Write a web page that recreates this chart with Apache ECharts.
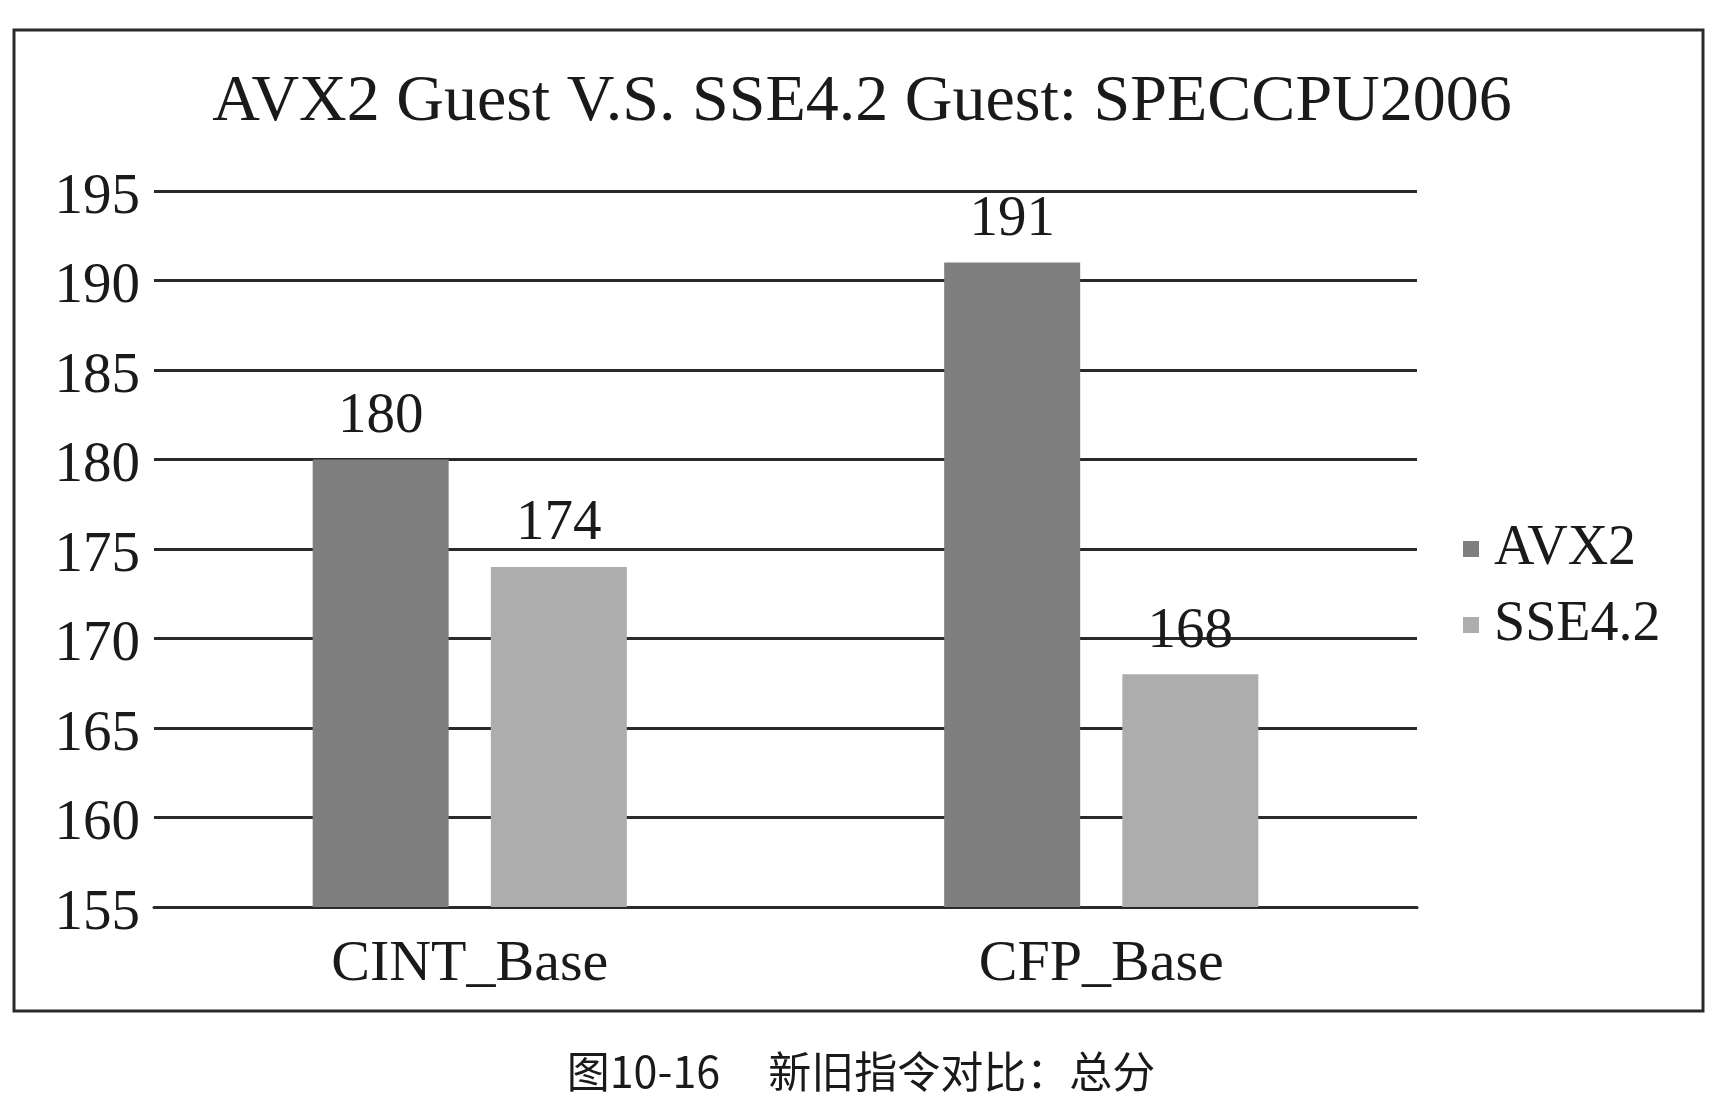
<!DOCTYPE html>
<html>
<head>
<meta charset="utf-8">
<script src="https://cdn.jsdelivr.net/npm/echarts@6/dist/echarts.min.js"></script>
<style>
html,body{margin:0;padding:0;background:#fff;}
#chart{width:1722px;height:1118px;}
</style>
</head>
<body>
<div id="chart"></div>
<script>
const categories=["CINT_Base","CFP_Base"];
const avx2=[180,191];
const sse42=[174,168];
const seriesNames=["AVX2","SSE4.2"];
const yMin=155, yMax=195, yStep=5;

const serif="'Liberation Serif','Times New Roman',serif";
const chart=echarts.init(document.getElementById("chart"));

const barLabel={show:true,position:"top",distance:14,color:"#1a1a1a",fontFamily:serif,fontSize:57};

chart.setOption({
  backgroundColor:"#fff",
  animation:false,
  title:[
    {text:"AVX2 Guest V.S. SSE4.2 Guest: SPECCPU2006",left:862,textAlign:"center",top:70,padding:0,
     textStyle:{fontFamily:serif,fontSize:66,fontWeight:"normal",color:"#1a1a1a"}},
    {text:"图10-16     新旧指令对比：总分",left:861,textAlign:"center",top:1050,padding:0,
     textStyle:{fontFamily:"'Noto Sans CJK SC',sans-serif",fontSize:43,fontWeight:"normal",color:"#1a1a1a"}}
  ],
  graphic:[{type:"rect",shape:{x:14,y:30,width:1689,height:981},
    style:{fill:"none",stroke:"#2a2a2a",lineWidth:3},silent:true}],
  legend:{orient:"vertical",left:1458,top:513,icon:"rect",itemWidth:16,itemHeight:16,itemGap:14,
    textStyle:{fontFamily:serif,fontSize:56,color:"#1a1a1a",lineHeight:62,padding:[0,0,0,10]},
    data:seriesNames},
  grid:{left:154,right:305,top:191,bottom:211},
  xAxis:{type:"category",data:categories,
    axisLine:{show:true,lineStyle:{color:"#2a2a2a",width:3}},
    axisTick:{show:false},
    axisLabel:{fontFamily:serif,fontSize:58,color:"#1a1a1a",margin:29}},
  yAxis:{type:"value",min:yMin,max:yMax,interval:yStep,
    axisLine:{show:false},axisTick:{show:false},
    axisLabel:{margin:14,formatter:"{v|{value}}",
      rich:{v:{fontFamily:serif,fontSize:57,color:"#1a1a1a",padding:[14,0,0,0]}}},
    splitLine:{lineStyle:{color:"#2a2a2a",width:3}}},
  series:[
    {name:seriesNames[0],type:"bar",data:avx2,barWidth:136,barGap:"31%",
     itemStyle:{color:"#7f7f7f"},label:barLabel},
    {name:seriesNames[1],type:"bar",data:sse42,barWidth:136,
     itemStyle:{color:"#adadad"},label:barLabel}
  ]
});
</script>
</body>
</html>
